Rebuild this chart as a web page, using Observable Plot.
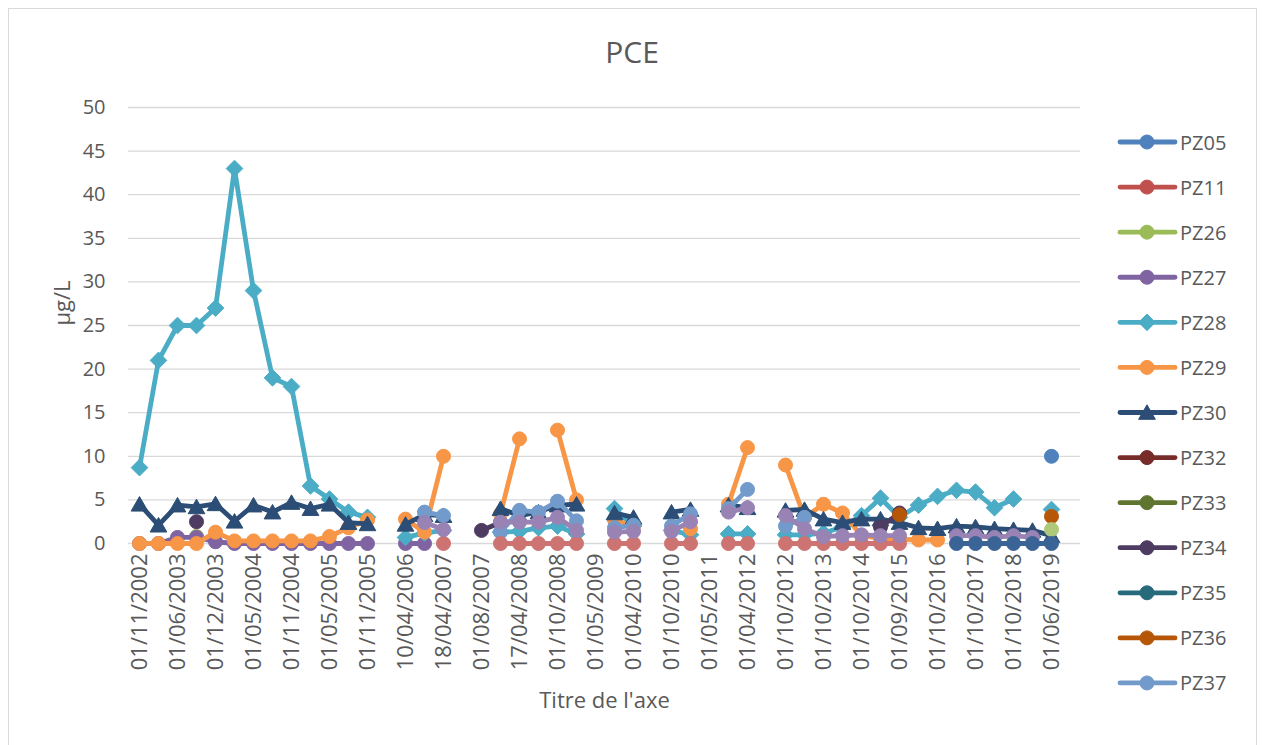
<!DOCTYPE html>
<html><head><meta charset="utf-8">
<script src="https://cdn.jsdelivr.net/npm/d3@7"></script>
<script src="https://cdn.jsdelivr.net/npm/@observablehq/plot@0.6"></script>
<style>
body{margin:0;background:#fff;font-family:"Open Sans",sans-serif;}
#wrap{position:relative;width:1264px;height:745px;overflow:hidden;background:#fff;}
#frame{position:absolute;left:8px;top:8px;width:1249px;height:760px;border:1px solid #D9D9D9;box-sizing:border-box;}
#chart{position:absolute;left:0;top:0;}
#title{position:absolute;left:0;width:1264px;top:31px;text-align:center;font-size:30px;color:#595959;line-height:42px;}
#legend{position:absolute;left:1100px;top:0;}
</style></head><body>
<div id="wrap"><div id="frame"></div><div id="chart"></div><div id="title">PCE</div><svg id="legend" width="164" height="745"></svg></div>
<script>
const _ = null;

const categories = [
 "01/11/2002","01/03/2003","01/06/2003","01/09/2003","01/12/2003","01/03/2004","01/05/2004","01/08/2004","01/11/2004","01/02/2005",
 "01/05/2005","01/08/2005","01/11/2005","01/02/2006","10/04/2006","01/10/2006","18/04/2007","01/06/2007","01/08/2007","01/11/2007",
 "17/04/2008","01/07/2008","01/10/2008","01/01/2009","01/05/2009","01/10/2009","01/04/2010","01/07/2010","01/10/2010","01/02/2011",
 "01/05/2011","01/10/2011","01/04/2012","01/06/2012","01/10/2012","01/04/2013","01/10/2013","01/04/2014","01/10/2014","01/04/2015",
 "01/09/2015","01/04/2016","01/10/2016","01/04/2017","01/10/2017","01/04/2018","01/10/2018","01/02/2019","01/06/2019","01/10/2019"
];

const tickLabels = [
 "01/11/2002","01/06/2003","01/12/2003","01/05/2004","01/11/2004","01/05/2005","01/11/2005","10/04/2006","18/04/2007",
 "01/08/2007","17/04/2008","01/10/2008","01/05/2009","01/04/2010","01/10/2010","01/05/2011","01/04/2012","01/10/2012",
 "01/10/2013","01/10/2014","01/09/2015","01/10/2016","01/10/2017","01/10/2018","01/06/2019"
];

const yTicks = [0, 5, 10, 15, 20, 25, 30, 35, 40, 45, 50];

const PZ05 = [
 _,_,_,_,_,_,_,_,_,_,
 _,_,_,_,_,_,_,_,_,_,
 _,_,_,_,_,_,_,_,_,_,
 _,_,_,_,_,_,_,_,_,_,
 _,_,_,_,_,_,_,_,10,_];
const PZ11 = [
 _,_,_,_,_,_,_,_,_,_,
 _,_,_,_,_,_,_,_,_,_,
 _,_,_,_,_,_,_,_,_,_,
 _,_,_,_,_,_,_,_,_,_,
 _,_,_,_,_,_,_,_,_,_];
const PZ26 = [
 _,_,_,0.8,_,_,_,_,_,_,
 _,_,_,_,_,_,_,_,_,_,
 _,_,_,_,_,_,_,_,_,_,
 _,_,_,_,_,_,_,_,_,_,
 _,_,_,_,_,_,_,_,_,_];
const PZ27 = [
 0,0,0.7,0.7,0.2,0,0,0,0,0,
 0,0,0,_,0,0,_,_,_,_,
 _,_,_,_,_,_,_,_,_,_,
 _,_,_,_,_,_,_,_,_,_,
 _,_,_,_,_,_,_,_,_,_];
const PZ28 = [
 8.7,21,25,25,27,43,29,19,18,6.6,
 5.1,3.6,3.0,_,0.7,1.2,1.5,_,_,1.3,
 1.4,1.8,2.0,1.1,_,4.0,2.0,_,1.5,1.0,
 _,1.1,1.1,_,1.0,1.0,1.2,1.9,3.2,5.2,
 3.0,4.4,5.4,6.1,5.9,4.1,5.1,_,3.9,_];
const PZ29 = [
 0,0,0,0,1.3,0.3,0.3,0.3,0.3,0.3,
 0.8,1.8,2.7,_,2.8,1.3,10,_,_,3.4,
 12,_,13,5,_,2.7,2.0,_,_,1.7,
 _,4.5,11,_,9.0,3.0,4.5,3.5,0.9,0.6,
 0.5,0.4,0.4,_,_,_,_,_,_,_];
const PZ30 = [
 4.5,2.1,4.4,4.2,4.55,2.55,4.4,3.6,4.7,4.0,
 4.5,2.4,2.25,_,2.2,3.3,3.2,_,_,4.0,
 3.2,3.6,4.4,4.5,_,3.5,3.0,_,3.6,3.9,
 _,4.4,4.1,_,3.8,3.9,2.8,2.4,2.8,2.8,
 2.4,1.8,1.7,2.0,1.9,1.7,1.6,1.5,0.9,_];
const PZ32 = PZ11.slice();
const PZ33 = PZ11.slice();
const PZ34 = [
 _,_,_,2.5,_,_,_,_,_,_,
 _,_,_,_,_,_,_,_,1.5,2.4,
 _,_,_,_,_,_,_,_,_,_,
 _,_,_,_,_,_,_,_,_,1.9,
 3.5,_,_,_,_,_,_,_,_,_];
const PZ35 = PZ11.slice();
const PZ36 = [
 _,_,_,_,_,_,_,_,_,_,
 _,_,_,_,_,_,_,_,_,_,
 _,_,_,_,_,_,_,_,_,_,
 _,_,_,_,_,_,_,_,_,_,
 3.3,_,_,_,_,_,_,_,3.1,_];
const PZ37 = [
 _,_,_,_,_,_,_,_,_,_,
 _,_,_,_,_,3.6,3.2,_,_,1.3,
 3.8,3.6,4.85,2.6,_,1.8,2.1,_,2.0,3.4,
 _,4.0,6.2,_,2.0,3.0,_,_,_,_,
 _,_,_,_,_,_,_,_,_,_];
// further series drawn in the chart but cut off from its legend
const S14 = [
 _,_,_,_,_,_,_,_,_,_,
 _,_,_,_,_,_,0,_,_,0,
 0,0,0,0,_,0,0,_,0,0,
 _,0,0,_,0,0,0,0,0,0,
 0,_,_,_,_,_,_,_,_,_];
const S15 = [
 _,_,_,_,_,_,_,_,_,_,
 _,_,_,_,_,_,_,_,_,_,
 _,_,_,_,_,_,_,_,_,_,
 _,_,_,_,_,_,_,_,_,_,
 _,_,_,_,_,_,_,_,1.6,_];
const S16 = [
 _,_,_,_,_,_,_,_,_,_,
 _,_,_,_,_,2.4,1.6,_,_,2.45,
 2.45,2.45,3.0,1.5,_,1.3,1.4,_,1.4,2.5,
 _,3.6,4.1,_,3.2,1.7,0.8,0.9,1.0,0.9,
 0.9,_,_,0.9,0.9,0.7,0.9,0.7,_,_];
const S19 = [
 _,_,_,_,_,_,_,_,_,_,
 _,_,_,_,_,_,_,_,_,_,
 _,_,_,_,_,_,_,_,_,_,
 _,_,_,_,_,_,_,_,_,_,
 _,_,_,0,0,0,0,0,0,_];

const legendNames = ["PZ05","PZ11","PZ26","PZ27","PZ28","PZ29","PZ30","PZ32","PZ33","PZ34","PZ35","PZ36","PZ37"];
const legendColors = ["#4F81BD","#C0504D","#9BBB59","#8064A2","#4BACC6","#F79646","#2C4D75","#772C2A","#5F7530","#4D3B62","#276A7C","#B65708","#729ACA"];
const legendSymbols = ["circle","circle","circle","circle","diamond2","circle","triangle","circle","circle","circle","circle","circle","circle"];
const legendValues = [PZ05,PZ11,PZ26,PZ27,PZ28,PZ29,PZ30,PZ32,PZ33,PZ34,PZ35,PZ36,PZ37];

const extraNames = ["Série 14","Série 15","Série 16","Série 19"];
const extraColors = ["#CD7371","#AFC97A","#9983B5","#3B6496"];
const extraValues = [S14,S15,S16,S19];

const series = [];
legendNames.forEach((n,k) => series.push({name:n, color:legendColors[k], symbol:legendSymbols[k], values:legendValues[k]}));
extraNames.forEach((n,k) => series.push({name:n, color:extraColors[k], symbol:"circle", values:extraValues[k]}));

const symbolSize = {circle: 7, diamond2: 7.5, triangle: 6.2};
const symbolDy = {circle: 0, diamond2: 0, triangle: 2};

const marks = [
  Plot.gridY(yTicks, {stroke: "#D9D9D9", strokeOpacity: 1, strokeWidth: 1.3}),
  Plot.axisY(yTicks, {tickSize: 0, tickPadding: 23, fontSize: 20, label: null}),
  Plot.axisX(tickLabels, {tickSize: 0, tickRotate: -90, tickPadding: 10, fontSize: 22, label: null}),
  Plot.text(["µg/L"], {frameAnchor: "left", dx: -66, rotate: -90, fontSize: 22, fill: "#595959"}),
  Plot.text(["Titre de l'axe"], {frameAnchor: "bottom", dy: 164, fontSize: 22, fill: "#595959"})
];
for (const s of series) {
  const rows = categories.map((c,i) => ({cat: c, v: s.values[i]}));
  marks.push(Plot.line(rows, {x: "cat", y: "v", stroke: s.color, strokeWidth: 4.8, strokeLinejoin: "round", strokeLinecap: "round"}));
  marks.push(Plot.dot(rows.filter(d => d.v != null), {x: "cat", y: "v", symbol: s.symbol, r: symbolSize[s.symbol], fill: s.color, stroke: s.color, strokeWidth: 1, dy: symbolDy[s.symbol]}));
}

const chart = Plot.plot({
  width: 1100, height: 745,
  marginLeft: 128, marginRight: 20, marginTop: 107, marginBottom: 202,
  style: {fontFamily: '"Open Sans", sans-serif', fontSize: "20px", color: "#595959", background: "transparent", overflow: "visible"},
  x: {type: "point", domain: categories, range: [137.5, 1070.5], padding: 0},
  y: {domain: [0, 50]},
  marks
});
document.getElementById("chart").appendChild(chart);

// legend
const lg = d3.select("#legend");
legendNames.forEach((n,k) => {
  const g = lg.append("g").attr("transform", `translate(0,${142 + k*45.08})`);
  g.append("line").attr("x1",20).attr("x2",75).attr("y1",0).attr("y2",0)
    .attr("stroke",legendColors[k]).attr("stroke-width",4.8).attr("stroke-linecap","round");
  const sym = legendSymbols[k] === "diamond2" ? d3.symbolDiamond2 : legendSymbols[k] === "triangle" ? d3.symbolTriangle : d3.symbolCircle;
  const r = symbolSize[legendSymbols[k]];
  g.append("path").attr("d", d3.symbol(sym, Math.PI*r*r)()).attr("transform", `translate(47,${symbolDy[legendSymbols[k]]})`)
    .attr("fill",legendColors[k]).attr("stroke",legendColors[k]);
  g.append("text").attr("x",80).attr("y",0).attr("dominant-baseline","central")
    .attr("font-family",'"Open Sans", sans-serif').attr("font-size",20).attr("fill","#595959").text(n);
});
</script></body></html>
